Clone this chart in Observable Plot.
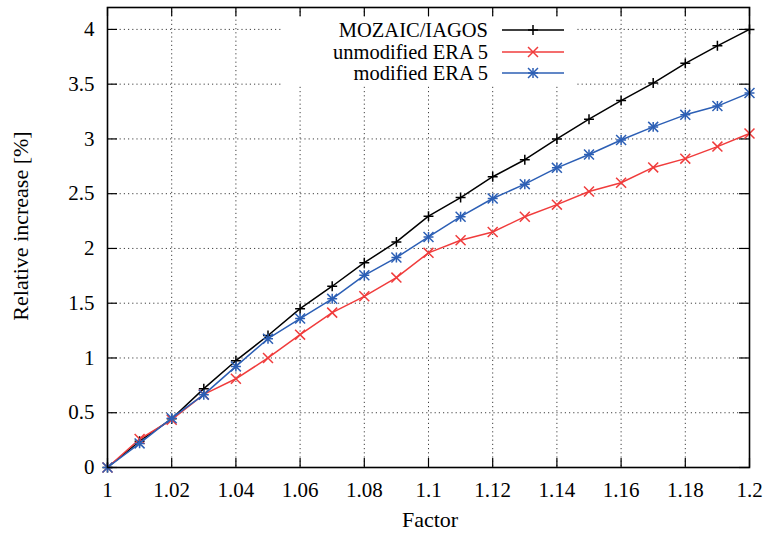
<!DOCTYPE html>
<html><head><meta charset="utf-8">
<script src="https://cdn.jsdelivr.net/npm/d3@7"></script>
<script src="https://cdn.jsdelivr.net/npm/@observablehq/plot@0.6"></script>
<style>
body{margin:0;background:#fff;}
#wrap{position:relative;width:766px;height:533px;font-family:'Liberation Serif';}
#legend{position:absolute;left:281px;top:17px;width:296px;height:68px;background:#fff;font-family:'Liberation Serif';}
.row{position:absolute;left:0;height:20px;width:296px;}
.row span{position:absolute;left:0;top:0;width:207px;text-align:right;line-height:20px;font-size:20.5px;color:#000;white-space:nowrap;}
.row svg{position:absolute;left:221px;top:0;}
.axlabel{position:absolute;font-size:22px;line-height:22px;white-space:nowrap;color:#000;font-family:'Liberation Serif';}
svg.chart text{font-family:'Liberation Serif';}
</style></head><body><div id="wrap"></div>
<script>
const factors = [1.00,1.01,1.02,1.03,1.04,1.05,1.06,1.07,1.08,1.09,1.10,1.11,1.12,1.13,1.14,1.15,1.16,1.17,1.18,1.19,1.20];
const mozaic = [0,0.24,0.445,0.72,0.975,1.205,1.45,1.655,1.87,2.06,2.295,2.465,2.655,2.81,3.0,3.18,3.35,3.51,3.69,3.85,4.0];
const unmodified = [0,0.26,0.436,0.667,0.81,1.0,1.213,1.414,1.563,1.734,1.96,2.075,2.15,2.29,2.40,2.52,2.60,2.74,2.82,2.93,3.05];
const modified = [0,0.22,0.45,0.665,0.923,1.176,1.36,1.54,1.755,1.917,2.105,2.29,2.456,2.587,2.736,2.858,2.99,3.11,3.22,3.30,3.42];
const xTicks = [1,1.02,1.04,1.06,1.08,1.1,1.12,1.14,1.16,1.18,1.2];
const yTicks = [0,0.5,1,1.5,2,2.5,3,3.5,4];
const seriesNames = ["MOZAIC/IAGOS","unmodified ERA 5","modified ERA 5"];
const seriesColors = ["#000000","#f03c3c","#2c5fb5"];
const seriesSymbols = [["plus"],["times"],["plus","times"]];
const xLabel = "Factor";
const yLabel = "Relative increase [%]";

const seriesValues = [mozaic, unmodified, modified];
const rows = [];
seriesValues.forEach((vals, s) => vals.forEach((v, i) => rows.push({series: seriesNames[s], x: factors[i], y: v})));

const W = 766, H = 533, mL = 107, mR = 17, mT = 7, mB = 66;
const plotW = W - mL - mR, plotH = H - mT - mB;
const symR = {plus: 3.3, times: 4.6};

const marks = [
  Plot.gridX(xTicks, {stroke: "#000", strokeOpacity: 0.75, strokeWidth: 1, strokeDasharray: "1.2,3"}),
  Plot.gridY(yTicks, {stroke: "#000", strokeOpacity: 0.75, strokeWidth: 1, strokeDasharray: "1.2,3"}),
  Plot.tickY(yTicks, {y: d => d, stroke: "#000", strokeWidth: 1.2, insetRight: plotW - 10}),
  Plot.tickY(yTicks, {y: d => d, stroke: "#000", strokeWidth: 1.2, insetLeft: plotW - 10}),
  Plot.tickX(xTicks, {x: d => d, stroke: "#000", strokeWidth: 1.2, insetTop: plotH - 9}),
  Plot.tickX(xTicks, {x: d => d, stroke: "#000", strokeWidth: 1.2, insetBottom: plotH - 9}),
  Plot.axisX(xTicks, {tickSize: 0, tickPadding: 15, tickFormat: d => String(+d.toFixed(2)), label: null, fontFamily: "Liberation Serif"}),
  Plot.axisY(yTicks, {tickSize: 0, tickPadding: 13, tickFormat: d => String(d), label: null, fontFamily: "Liberation Serif"}),
];
seriesNames.forEach((name, s) => {
  const data = rows.filter(r => r.series === name);
  marks.push(Plot.line(data, {x: "x", y: "y", stroke: seriesColors[s], strokeWidth: 1.5}));
  seriesSymbols[s].forEach(sym => marks.push(Plot.dot(data, {x: "x", y: "y", symbol: sym, r: symR[sym], stroke: seriesColors[s], strokeWidth: 1.5})));
});
marks.push(Plot.frame({stroke: "#000", strokeWidth: 1.6}));

const chart = Plot.plot({
  width: W, height: H,
  marginLeft: mL, marginRight: mR, marginTop: mT, marginBottom: mB,
  style: {fontFamily: "Liberation Serif", fontSize: "21px", background: "#fff", color: "#000", overflow: "visible"},
  x: {domain: [1, 1.2]},
  y: {domain: [0, 4.2]},
  marks
});
chart.classList.add("chart");
const wrap = document.getElementById("wrap");
wrap.appendChild(chart);

d3.select(wrap).append("div").attr("class", "axlabel").text(xLabel)
  .style("left", "430px").style("top", "509px").style("transform", "translateX(-50%)");
d3.select(wrap).append("div").attr("class", "axlabel").text(yLabel)
  .style("left", "21px").style("top", "226px").style("transform", "translate(-50%,-50%) rotate(-90deg)");

const legend = d3.select(wrap).append("div").attr("id", "legend");
const rowTops = [3, 24.5, 46];
seriesNames.forEach((name, s) => {
  const row = legend.append("div").attr("class", "row").style("top", rowTops[s] + "px");
  row.append("span").text(name);
  const svg = row.append("svg").attr("width", 62).attr("height", 20);
  svg.append("line").attr("x1", 0).attr("x2", 62).attr("y1", 10).attr("y2", 10).attr("stroke", seriesColors[s]).attr("stroke-width", 1.5);
  seriesSymbols[s].forEach(sym => {
    const shape = sym === "plus" ? d3.symbolPlus : d3.symbolTimes;
    const size = Math.PI * symR[sym] * symR[sym];
    svg.append("path").attr("d", d3.symbol(shape, size)()).attr("transform", "translate(31,10)")
      .attr("fill", "none").attr("stroke", seriesColors[s]).attr("stroke-width", 1.5);
  });
});
</script></body></html>
